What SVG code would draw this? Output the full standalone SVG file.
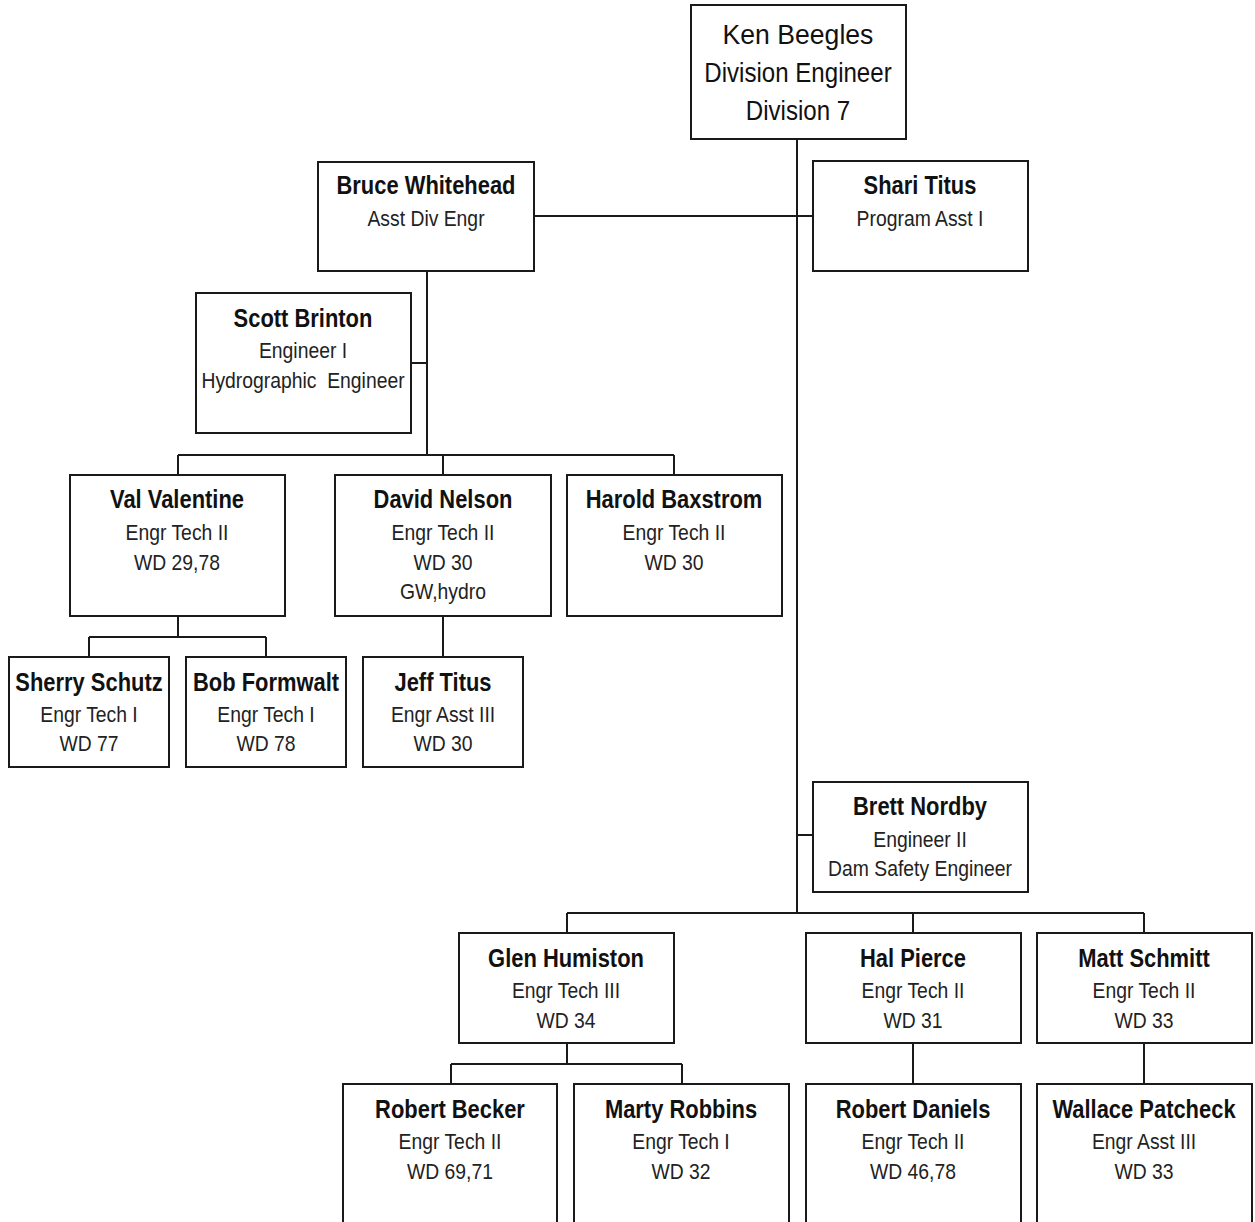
<svg xmlns="http://www.w3.org/2000/svg" width="1255" height="1222" viewBox="0 0 1255 1222">
<style>
.box{fill:#fff;stroke:#1a1a1a;stroke-width:2}
.n{font-family:"Liberation Sans",Arial,sans-serif;font-weight:bold;font-size:25.5px;fill:#111;text-anchor:middle}
.s{font-family:"Liberation Sans",Arial,sans-serif;font-size:22.5px;fill:#222;text-anchor:middle}
.k{font-family:"Liberation Sans",Arial,sans-serif;font-size:28px;fill:#111;text-anchor:middle}
.c{fill:none;stroke:#1a1a1a;stroke-width:2}
</style>
<rect width="1255" height="1222" fill="#fff"/>
<g id="connectors" class="c">
<path d="M797 139V913"/>
<path d="M534 216H813"/>
<path d="M427 271V455"/>
<path d="M411 363H427"/>
<path d="M178 455H674M178 455V475M443 455V475M674 455V475"/>
<path d="M178 616V637M89 637H266M89 637V657M266 637V657"/>
<path d="M443 616V657"/>
<path d="M797 835H813"/>
<path d="M567 913H1144M567 913V933M913 913V933M1144 913V933"/>
<path d="M567 1043V1064M451 1064H682M451 1064V1084M682 1064V1084"/>
<path d="M913 1043V1084"/>
<path d="M1144 1043V1084"/>
</g>
<g id="ken"><rect class="box" x="691" y="5" width="215" height="134"/>
<text class="k" transform="translate(798 44) scale(0.95 1)" x="0" y="0">Ken Beegles</text>
<g transform="translate(798 0) scale(0.86 1)"><text class="k" x="0" y="82">Division Engineer</text><text class="k" x="0" y="120">Division 7</text></g></g>
<g id="bruce"><rect class="box" x="318" y="162" width="216" height="109"/>
<g transform="translate(426 0) scale(0.86 1)"><text class="n" x="0" y="194">Bruce Whitehead</text><text class="s" x="0" y="226">Asst Div Engr</text></g></g>
<g id="shari"><rect class="box" x="813" y="161" width="215" height="110"/>
<g transform="translate(920 0) scale(0.86 1)"><text class="n" x="0" y="194">Shari Titus</text><text class="s" x="0" y="226">Program Asst I</text></g></g>
<g id="scott"><rect class="box" x="196" y="293" width="215" height="140"/>
<g transform="translate(303 0) scale(0.86 1)"><text class="n" x="0" y="327">Scott Brinton</text><text class="s" x="0" y="358">Engineer I</text><text class="s" x="0" y="388" style="white-space:pre">Hydrographic  Engineer</text></g></g>
<g id="val"><rect class="box" x="70" y="475" width="215" height="141"/>
<g transform="translate(177 0) scale(0.86 1)"><text class="n" x="0" y="508">Val Valentine</text><text class="s" x="0" y="540">Engr Tech II</text><text class="s" x="0" y="570">WD 29,78</text></g></g>
<g id="david"><rect class="box" x="335" y="475" width="216" height="141"/>
<g transform="translate(443 0) scale(0.86 1)"><text class="n" x="0" y="508">David Nelson</text><text class="s" x="0" y="540">Engr Tech II</text><text class="s" x="0" y="570">WD 30</text><text class="s" x="0" y="599">GW,hydro</text></g></g>
<g id="harold"><rect class="box" x="567" y="475" width="215" height="141"/>
<g transform="translate(674 0) scale(0.86 1)"><text class="n" x="0" y="508">Harold Baxstrom</text><text class="s" x="0" y="540">Engr Tech II</text><text class="s" x="0" y="570">WD 30</text></g></g>
<g id="sherry"><rect class="box" x="9" y="657" width="160" height="110"/>
<g transform="translate(89 0) scale(0.86 1)"><text class="n" x="0" y="691">Sherry Schutz</text><text class="s" x="0" y="722">Engr Tech I</text><text class="s" x="0" y="751">WD 77</text></g></g>
<g id="bob"><rect class="box" x="186" y="657" width="160" height="110"/>
<g transform="translate(266 0) scale(0.86 1)"><text class="n" x="0" y="691">Bob Formwalt</text><text class="s" x="0" y="722">Engr Tech I</text><text class="s" x="0" y="751">WD 78</text></g></g>
<g id="jeff"><rect class="box" x="363" y="657" width="160" height="110"/>
<g transform="translate(443 0) scale(0.86 1)"><text class="n" x="0" y="691">Jeff Titus</text><text class="s" x="0" y="722">Engr Asst III</text><text class="s" x="0" y="751">WD 30</text></g></g>
<g id="brett"><rect class="box" x="813" y="782" width="215" height="110"/>
<g transform="translate(920 0) scale(0.86 1)"><text class="n" x="0" y="815">Brett Nordby</text><text class="s" x="0" y="847">Engineer II</text><text class="s" x="0" y="876">Dam Safety Engineer</text></g></g>
<g id="glen"><rect class="box" x="459" y="933" width="215" height="110"/>
<g transform="translate(566 0) scale(0.86 1)"><text class="n" x="0" y="967">Glen Humiston</text><text class="s" x="0" y="998">Engr Tech III</text><text class="s" x="0" y="1028">WD 34</text></g></g>
<g id="hal"><rect class="box" x="806" y="933" width="215" height="110"/>
<g transform="translate(913 0) scale(0.86 1)"><text class="n" x="0" y="967">Hal Pierce</text><text class="s" x="0" y="998">Engr Tech II</text><text class="s" x="0" y="1028">WD 31</text></g></g>
<g id="matt"><rect class="box" x="1037" y="933" width="215" height="110"/>
<g transform="translate(1144 0) scale(0.86 1)"><text class="n" x="0" y="967">Matt Schmitt</text><text class="s" x="0" y="998">Engr Tech II</text><text class="s" x="0" y="1028">WD 33</text></g></g>
<g id="becker"><rect class="box" x="343" y="1084" width="214" height="160"/>
<g transform="translate(450 0) scale(0.86 1)"><text class="n" x="0" y="1118">Robert Becker</text><text class="s" x="0" y="1149">Engr Tech II</text><text class="s" x="0" y="1179">WD 69,71</text></g></g>
<g id="marty"><rect class="box" x="574" y="1084" width="215" height="160"/>
<g transform="translate(681 0) scale(0.86 1)"><text class="n" x="0" y="1118">Marty Robbins</text><text class="s" x="0" y="1149">Engr Tech I</text><text class="s" x="0" y="1179">WD 32</text></g></g>
<g id="daniels"><rect class="box" x="806" y="1084" width="215" height="160"/>
<g transform="translate(913 0) scale(0.86 1)"><text class="n" x="0" y="1118">Robert Daniels</text><text class="s" x="0" y="1149">Engr Tech II</text><text class="s" x="0" y="1179">WD 46,78</text></g></g>
<g id="wallace"><rect class="box" x="1037" y="1084" width="215" height="160"/>
<g transform="translate(1144 0) scale(0.86 1)"><text class="n" x="0" y="1118">Wallace Patcheck</text><text class="s" x="0" y="1149">Engr Asst III</text><text class="s" x="0" y="1179">WD 33</text></g></g>
</svg>
